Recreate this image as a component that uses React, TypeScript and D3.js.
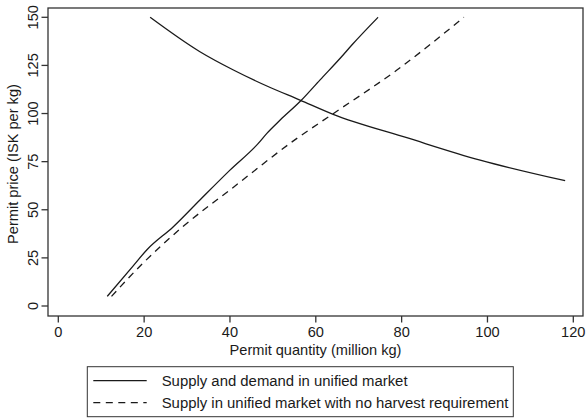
import React from "react";
import * as d3 from "d3";

// values
const demandQty = [21.4, 33, 40.8, 48.6, 56.3, 63.9, 81.4, 98.3, 118.1];
const demandPrice = [150, 132.1, 122.6, 114.3, 107, 99.7, 87.3, 75.8, 65.1];

const supplyQty = [11.4, 17.5, 20.6, 26.8, 33, 40, 46.6, 48.6, 51.7, 56.5, 61, 66, 68.4, 74.5];
const supplyPrice = [5, 21, 29.1, 41.2, 55.1, 70.6, 84.5, 89.7, 96.6, 106.6, 117.5, 129.5, 135.6, 150];

const noHarvestQty = [12.4, 19.3, 29, 40, 55.6, 63.9, 78.9, 94.5];
const noHarvestPrice = [5, 21.3, 41.2, 60.3, 87.1, 99.7, 122.6, 150];

const xTicks = [0, 20, 40, 60, 80, 100, 120];
const yTicks = [0, 25, 50, 75, 100, 125, 150];

const legendLabels = [
  "Supply and demand in unified market",
  "Supply in unified market with no harvest requirement",
];

const W = 586;
const H = 420;
const box = { left: 48, right: 583, top: 8, bottom: 316 };
const ink = "#1a1a1a";
const font = "'Liberation Sans', Arial, Helvetica, sans-serif";
const fs = 14.6;

export default function App() {
  const x = d3.scaleLinear().domain([0, 120]).range([58.3, 573.3]);
  const y = d3.scaleLinear().domain([0, 150]).range([306, 17.3]);

  const pts = (q: number[], p: number[]) => q.map((v, i) => [v, p[i]] as [number, number]);
  const smooth = d3.line<[number, number]>().x(d => x(d[0])).y(d => y(d[1])).curve(d3.curveMonotoneX);

  const lg = { x: 87.3, y: 366.7, w: 426, h: 50 };

  return (
    <div style={{ position: "absolute", left: 0, top: 0 }}>
      <svg width={W} height={H} style={{ display: "block", background: "#fff" }} fontFamily={font}>
        <rect
          x={box.left}
          y={box.top}
          width={box.right - box.left}
          height={box.bottom - box.top}
          fill="none"
          stroke="#333"
          strokeWidth={1.3}
        />
        {/* y axis */}
        {yTicks.map(t => (
          <g key={"y" + t}>
            <line x1={box.left - 6.5} x2={box.left} y1={y(t)} y2={y(t)} stroke="#333" strokeWidth={1.3} />
            <text
              transform={`translate(37.5,${y(t)}) rotate(-90)`}
              textAnchor="middle"
              fontSize={fs}
              fill={ink}
            >
              {t}
            </text>
          </g>
        ))}
        {/* x axis */}
        {xTicks.map(t => (
          <g key={"x" + t}>
            <line x1={x(t)} x2={x(t)} y1={box.bottom} y2={box.bottom + 6.5} stroke="#333" strokeWidth={1.3} />
            <text x={x(t)} y={337} textAnchor="middle" fontSize={fs} fill={ink}>
              {t}
            </text>
          </g>
        ))}
        <text x={(box.left + box.right) / 2} y={354.5} textAnchor="middle" fontSize={fs} fill={ink}>
          Permit quantity (million kg)
        </text>
        <text
          transform={`translate(17.5,164) rotate(-90)`}
          textAnchor="middle"
          fontSize={fs}
          fill={ink}
        >
          Permit price (ISK per kg)
        </text>

        {/* curves */}
        <path d={smooth(pts(demandQty, demandPrice)) ?? ""} fill="none" stroke={ink} strokeWidth={1.3} />
        <path d={smooth(pts(supplyQty, supplyPrice)) ?? ""} fill="none" stroke={ink} strokeWidth={1.3} />
        <path
          d={smooth(pts(noHarvestQty, noHarvestPrice)) ?? ""}
          fill="none"
          stroke={ink}
          strokeWidth={1.3}
          strokeDasharray="7,5.5"
        />

        {/* legend */}
        <rect x={lg.x} y={lg.y} width={lg.w} height={lg.h} fill="#fff" stroke="#333" strokeWidth={1} />
        {legendLabels.map((lab, i) => {
          const ly = 380.7 + i * 22;
          return (
            <g key={lab}>
              <line
                x1={93.3}
                x2={146.7}
                y1={ly}
                y2={ly}
                stroke={ink}
                strokeWidth={1.3}
                strokeDasharray={i === 1 ? "7,5.5" : undefined}
              />
              <text x={161.7} y={ly + 5.5} fontSize={14.9} fill={ink}>
                {lab}
              </text>
            </g>
          );
        })}
      </svg>
    </div>
  );
}
